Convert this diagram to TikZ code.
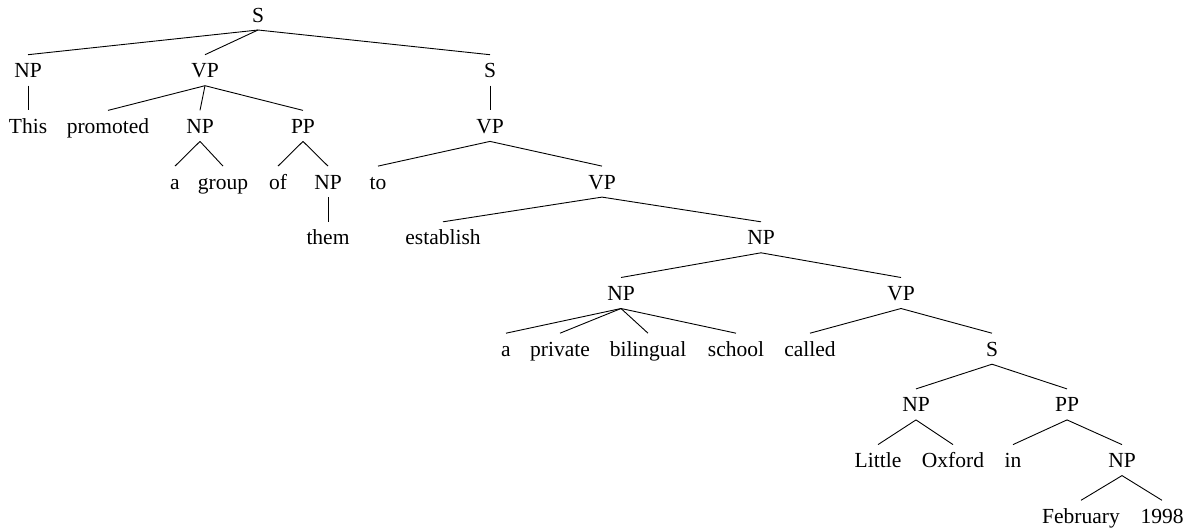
\documentclass[tikz,border=0pt]{standalone}
\usepackage{fontspec}
\setmainfont{Liberation Serif}
\begin{document}
\begin{tikzpicture}[x=1pt,y=-1pt,
  tn/.style={anchor=base, inner xsep=0pt, inner ysep=8pt, outer sep=0pt,
             text height=15pt, text depth=0pt,
             font=\fontsize{21.5}{26}\selectfont},
  br/.style={line width=0.9pt, black}]
\useasboundingbox (0,0) rectangle (1192,528);
% level baselines
\def\La{22}\def\Lb{77.7}\def\Lc{133.4}\def\Ld{189.1}\def\Le{244.8}
\def\Lf{300.5}\def\Lg{356.2}\def\Lh{411.9}\def\Li{467.6}\def\Lj{523.3}
% nodes
\node[tn] (s0) at (258,\La) {S};
\node[tn] (np1) at (28,\Lb) {NP};
\node[tn] (vp1) at (205,\Lb) {VP};
\node[tn] (s1) at (490,\Lb) {S};
\node[tn] (this) at (28,\Lc) {This};
\node[tn] (promoted) at (108,\Lc) {promoted};
\node[tn] (np2) at (200,\Lc) {NP};
\node[tn] (pp2) at (303,\Lc) {PP};
\node[tn] (vp2) at (490,\Lc) {VP};
\node[tn] (a3) at (175,\Ld) {a};
\node[tn] (group) at (223,\Ld) {group};
\node[tn] (of) at (278,\Ld) {of};
\node[tn] (np3) at (328,\Ld) {NP};
\node[tn] (to) at (378,\Ld) {to};
\node[tn] (vp3) at (602,\Ld) {VP};
\node[tn] (them) at (328,\Le) {them};
\node[tn] (establish) at (443,\Le) {establish};
\node[tn] (np4) at (761,\Le) {NP};
\node[tn] (np5) at (621,\Lf) {NP};
\node[tn] (vp5) at (901,\Lf) {VP};
\node[tn] (a6) at (506,\Lg) {a};
\node[tn] (private) at (560,\Lg) {private};
\node[tn] (bilingual) at (648,\Lg) {bilingual};
\node[tn] (school) at (736,\Lg) {school};
\node[tn] (called) at (810,\Lg) {called};
\node[tn] (s6) at (992,\Lg) {S};
\node[tn] (np7) at (916,\Lh) {NP};
\node[tn] (pp7) at (1067,\Lh) {PP};
\node[tn] (little) at (878,\Li) {Little};
\node[tn] (oxford) at (953,\Li) {Oxford};
\node[tn] (in) at (1013,\Li) {in};
\node[tn] (np8) at (1122,\Li) {NP};
\node[tn] (feb) at (1081,\Lj) {February};
\node[tn] (year) at (1162,\Lj) {1998};
% branches
\foreach \p/\c in {s0/np1, s0/vp1, s0/s1,
                   np1/this,
                   vp1/promoted, vp1/np2, vp1/pp2,
                   np2/a3, np2/group,
                   pp2/of, pp2/np3,
                   np3/them,
                   s1/vp2,
                   vp2/to, vp2/vp3,
                   vp3/establish, vp3/np4,
                   np4/np5, np4/vp5,
                   np5/a6, np5/private, np5/bilingual, np5/school,
                   vp5/called, vp5/s6,
                   s6/np7, s6/pp7,
                   np7/little, np7/oxford,
                   pp7/in, pp7/np8,
                   np8/feb, np8/year}
  \draw[br] (\p.south) -- (\c.north);
\end{tikzpicture}
\end{document}
